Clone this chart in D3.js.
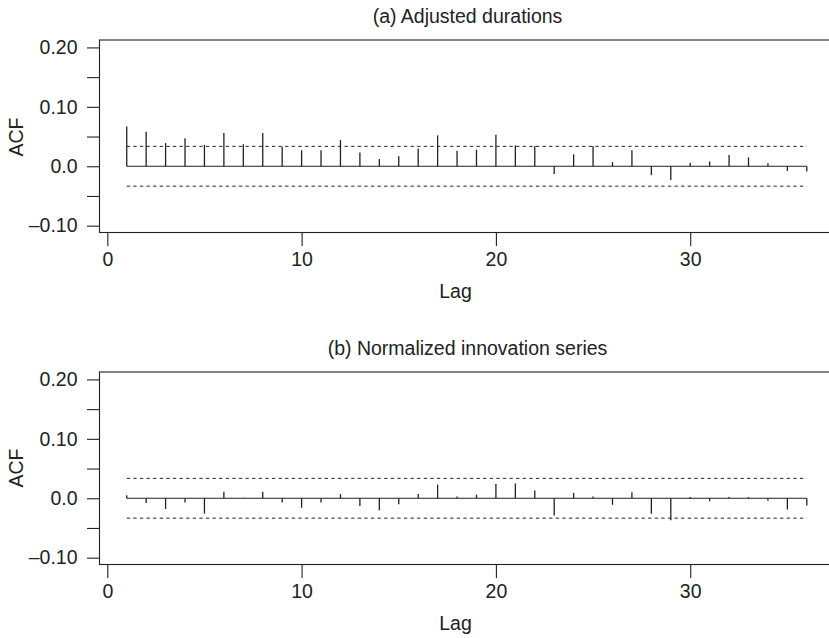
<!DOCTYPE html>
<html>
<head>
<meta charset="utf-8">
<script src="https://cdn.jsdelivr.net/npm/d3@7"></script>
<style>
  html, body { margin: 0; padding: 0; background: #fff; }
  svg { display: block; }
  text { font-family: "Liberation Sans", Arial, Helvetica, sans-serif; fill: #222; }
</style>
</head>
<body>
<svg id="chart" width="829" height="638"></svg>
<script>
// ---- data ----
const lags = [1,2,3,4,5,6,7,8,9,10,11,12,13,14,15,16,17,18,19,20,21,22,23,24,25,26,27,28,29,30,31,32,33,34,35,36];
const acfAdjusted = [0.067,0.058,0.039,0.047,0.036,0.056,0.037,0.056,0.033,0.027,0.027,0.044,0.023,0.012,0.017,0.030,0.052,0.026,0.028,0.053,0.035,0.034,-0.013,0.020,0.034,0.007,0.027,-0.015,-0.023,0.006,0.008,0.019,0.015,0.005,-0.008,-0.009];
const acfNormalized = [0.005,-0.008,-0.018,-0.007,-0.026,0.011,0.001,0.011,-0.007,-0.016,-0.007,0.007,-0.013,-0.020,-0.010,0.007,0.023,0.003,0.006,0.024,0.025,0.013,-0.029,0.009,0.003,-0.011,0.010,-0.026,-0.037,0.002,-0.005,0.002,0.002,-0.004,-0.019,-0.012];
const confBand = 0.0335;
const yMajorTicks = [-0.10, 0.0, 0.10, 0.20];
const yTickLabels = ["\u20130.10", "0.0", "0.10", "0.20"];
const yMinorTicks = [-0.05, 0.05, 0.15];
const xTicks = [0, 10, 20, 30];
const titles = ["(a) Adjusted durations", "(b) Normalized innovation series"];
const xLabel = "Lag";
const yLabel = "ACF";

// ---- layout ----
const svg = d3.select("#chart");
const FS = 19.5;
const ink = "#222";
const boxLeft = 99.5, boxRight = 840;
const x = d3.scaleLinear().domain([0, 36]).range([107.3, 806.8]);

const panels = [
  { title: titles[0], values: acfAdjusted, top: 40, bottom: 232.5, titleY: 23, acfY: 137 },
  { title: titles[1], values: acfNormalized, top: 372, bottom: 564.5, titleY: 355, acfY: 468 }
];

panels.forEach(p => {
  const y = d3.scaleLinear().domain([-0.1115, 0.2125]).range([p.bottom, p.top]);
  const g = svg.append("g");

  // box (right side falls outside the picture)
  g.append("rect")
    .attr("x", boxLeft).attr("y", p.top)
    .attr("width", boxRight - boxLeft).attr("height", p.bottom - p.top)
    .attr("fill", "none").attr("stroke", ink).attr("stroke-width", 1.1);

  // y axis
  const yAxis = d3.axisLeft(y)
    .tickValues(yMajorTicks.concat(yMinorTicks))
    .tickSize(12.5).tickPadding(9.5)
    .tickFormat(d => {
      const i = yMajorTicks.findIndex(v => Math.abs(v - d) < 1e-9);
      return i >= 0 ? yTickLabels[i] : "";
    });
  const ya = g.append("g").attr("transform", `translate(${boxLeft},0)`).call(yAxis);
  ya.select(".domain").remove();
  ya.selectAll("line").attr("stroke", ink).attr("stroke-width", 1.1);
  ya.selectAll("text").attr("font-size", FS).attr("font-family", null).style("fill", ink);

  // x axis
  const xAxis = d3.axisBottom(x).tickValues(xTicks).tickSize(13.5).tickPadding(6).tickFormat(d3.format("d"));
  const xa = g.append("g").attr("transform", `translate(0,${p.bottom})`).call(xAxis);
  xa.select(".domain").remove();
  xa.selectAll("line").attr("stroke", ink).attr("stroke-width", 1.1);
  xa.selectAll("text").attr("font-size", FS).attr("font-family", null).style("fill", ink);

  // labels
  g.append("text").attr("x", 455.5).attr("y", p.bottom + 65).attr("text-anchor", "middle")
    .attr("font-size", FS).text(xLabel);
  g.append("text").attr("transform", `translate(${23},${p.acfY}) rotate(-90)`)
    .attr("text-anchor", "middle").attr("font-size", FS).text(yLabel);
  g.append("text").attr("x", 467.5).attr("y", p.titleY).attr("text-anchor", "middle")
    .attr("font-size", 19.5).text(p.title);

  // confidence bands
  [confBand, -confBand].forEach(c => {
    g.append("line")
      .attr("x1", x(lags[0])).attr("x2", x(lags[lags.length - 1]))
      .attr("y1", y(c)).attr("y2", y(c))
      .attr("stroke", ink).attr("stroke-width", 1).attr("stroke-dasharray", "3.3,3.3");
  });

  // zero line
  g.append("line")
    .attr("x1", x(lags[0])).attr("x2", x(lags[lags.length - 1]))
    .attr("y1", y(0)).attr("y2", y(0))
    .attr("stroke", ink).attr("stroke-width", 1.1);

  // spikes
  g.selectAll("line.spike").data(lags).enter().append("line")
    .attr("class", "spike")
    .attr("x1", d => x(d)).attr("x2", d => x(d))
    .attr("y1", y(0)).attr("y2", (d, i) => y(p.values[i]))
    .attr("stroke", ink).attr("stroke-width", 1.3);
});
</script>
</body>
</html>
